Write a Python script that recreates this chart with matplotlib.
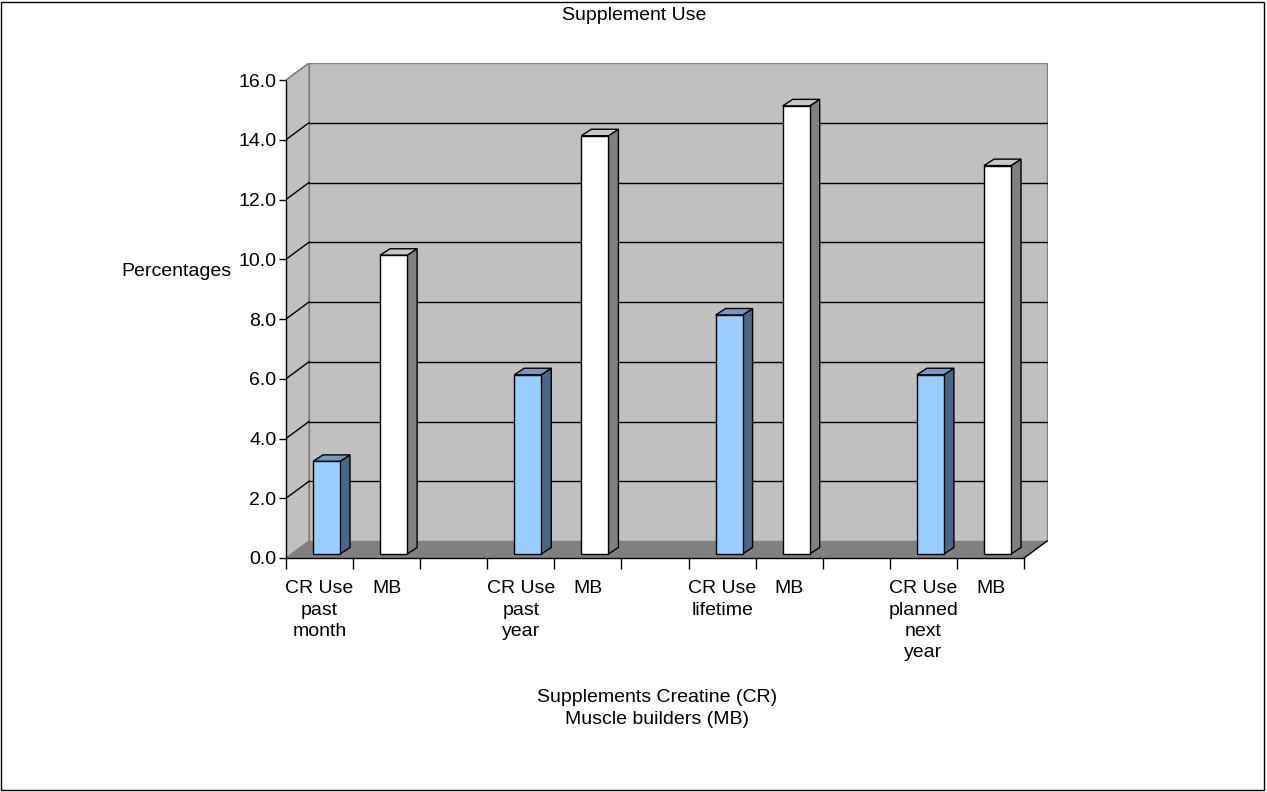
import numpy as np
import matplotlib
matplotlib.use("Agg")
import matplotlib.pyplot as plt
from matplotlib.patches import Polygon, Rectangle

plt.rcParams['font.family'] = ['Liberation Sans', 'DejaVu Sans']

# Data
categories = ['CR Use\npast\nmonth', 'MB', '',
              'CR Use\npast\nyear', 'MB', '',
              'CR Use\nlifetime', 'MB', '',
              'CR Use\nplanned\nnext\nyear', 'MB']
cr_values = [3.1, 6.0, 8.0, 6.0]
mb_values = [10.0, 14.0, 15.0, 13.0]
y_ticks = [0, 2, 4, 6, 8, 10, 12, 14, 16]

# slot values (None = empty gap slot)
slot_values = []
slot_kind = []
for i in range(4):
    slot_values += [cr_values[i], mb_values[i]]
    slot_kind += ['cr', 'mb']
    if i < 3:
        slot_values.append(None)
        slot_kind.append(None)

W, H = 1267, 792
FS = 14
SLOT_PX = 67.1
UNIT_PX = 29.875
# 3D depth of walls / bars, converted to data units
DX = 23 / SLOT_PX
DY = 17 / UNIT_PX
BAR_OFF_X = 27 / SLOT_PX
BAR_W = 27 / SLOT_PX
BAR_OFF_Y = 4 / UNIT_PX
BAR_DX = 10 / SLOT_PX
BAR_DY = 6.5 / UNIT_PX

n = len(categories)
ymax = 16

fig = plt.figure(figsize=(W / 100, H / 100), dpi=100)
left_px, right_px, bottom_px, top_px = 286, 1048, 558, 63
ax = fig.add_axes([left_px / W, 1 - bottom_px / H,
                   (right_px - left_px) / W, (bottom_px - top_px) / H])
ax.set_xlim(0, (right_px - left_px) / SLOT_PX)
ax.set_ylim(0, (bottom_px - top_px) / UNIT_PX)
ax.patch.set_visible(False)

wall_c = '#C0C0C0'
floor_c = '#808080'
edge_grey = '#808080'

# back wall
ax.add_patch(Rectangle((DX, DY), n, ymax, facecolor=wall_c, edgecolor=edge_grey, lw=1, zorder=1))
# left side wall
ax.add_patch(Polygon([(0, 0), (DX, DY), (DX, ymax + DY), (0, ymax)],
                     facecolor=wall_c, edgecolor=edge_grey, lw=1, zorder=1))
# floor
ax.add_patch(Polygon([(0, 0), (n, 0), (n + DX, DY), (DX, DY)],
                     facecolor=floor_c, edgecolor='none', zorder=1.5))
ax.plot([n, n + DX], [0, DY], color='black', lw=1, zorder=1.6)

# gridlines
for yv in y_ticks[1:]:
    col = edge_grey if yv == ymax else 'black'
    ax.plot([0, DX], [yv, yv + DY], color=col, lw=1, zorder=2)
    if yv < ymax:
        ax.plot([DX, n + DX], [yv + DY, yv + DY], color='black', lw=1, zorder=2)

# bars
colors = {
    'cr': ('#99CCFF', '#4C6686', '#7399C4'),
    'mb': ('#FFFFFF', '#808080', '#C8C8C8'),
}
for i, (val, kind) in enumerate(zip(slot_values, slot_kind)):
    if val is None:
        continue
    front, side, top = colors[kind]
    x0 = i + BAR_OFF_X
    y0 = BAR_OFF_Y
    x1 = x0 + BAR_W
    y1 = y0 + val
    ax.add_patch(Polygon([(x1, y0), (x1 + BAR_DX, y0 + BAR_DY), (x1 + BAR_DX, y1 + BAR_DY), (x1, y1)],
                         facecolor=side, edgecolor='black', lw=1, zorder=3))
    ax.add_patch(Polygon([(x0, y1), (x1, y1), (x1 + BAR_DX, y1 + BAR_DY), (x0 + BAR_DX, y1 + BAR_DY)],
                         facecolor=top, edgecolor='black', lw=1, zorder=3))
    ax.add_patch(Rectangle((x0, y0), BAR_W, val, facecolor=front, edgecolor='black', lw=1, zorder=4))

# axes
for s in ['top', 'right']:
    ax.spines[s].set_visible(False)
ax.spines['left'].set_bounds(0, ymax)
ax.spines['bottom'].set_bounds(0, n)
for s in ['left', 'bottom']:
    ax.spines[s].set_color('black')
    ax.spines[s].set_linewidth(1)
    ax.spines[s].set_zorder(5)

ax.set_yticks(y_ticks)
ax.set_yticklabels([f'{v:.1f}' for v in y_ticks], fontsize=FS)
ax.tick_params(axis='y', direction='out', length=5, width=1, pad=2)

ax.set_xticks(np.arange(0, n + 1))
ax.set_xticklabels([])
ax.tick_params(axis='x', which='major', direction='out', length=8, width=1)
ax.set_xticks(np.arange(n) + 0.5, minor=True)
ax.set_xticklabels(categories, minor=True, fontsize=FS, linespacing=1.33, va='top')
ax.tick_params(axis='x', which='minor', length=0, pad=16)

fig.text(634 / W, 1 - 15 / H, 'Supplement Use', ha='center', va='center', fontsize=FS)
fig.text(176 / W, 1 - 271 / H, 'Percentages', ha='center', va='center', fontsize=FS)
fig.text(657 / W, 1 - 697 / H, 'Supplements Creatine (CR)', ha='center', va='center', fontsize=FS)
fig.text(657 / W, 1 - 720 / H, 'Muscle builders (MB)', ha='center', va='center', fontsize=FS)

# outer chart border
fig.patches.append(Rectangle((0.001, 0.002), 0.997, 0.996, transform=fig.transFigure,
                             fill=False, edgecolor='black', lw=1))

fig.savefig('out.png', dpi=100)
